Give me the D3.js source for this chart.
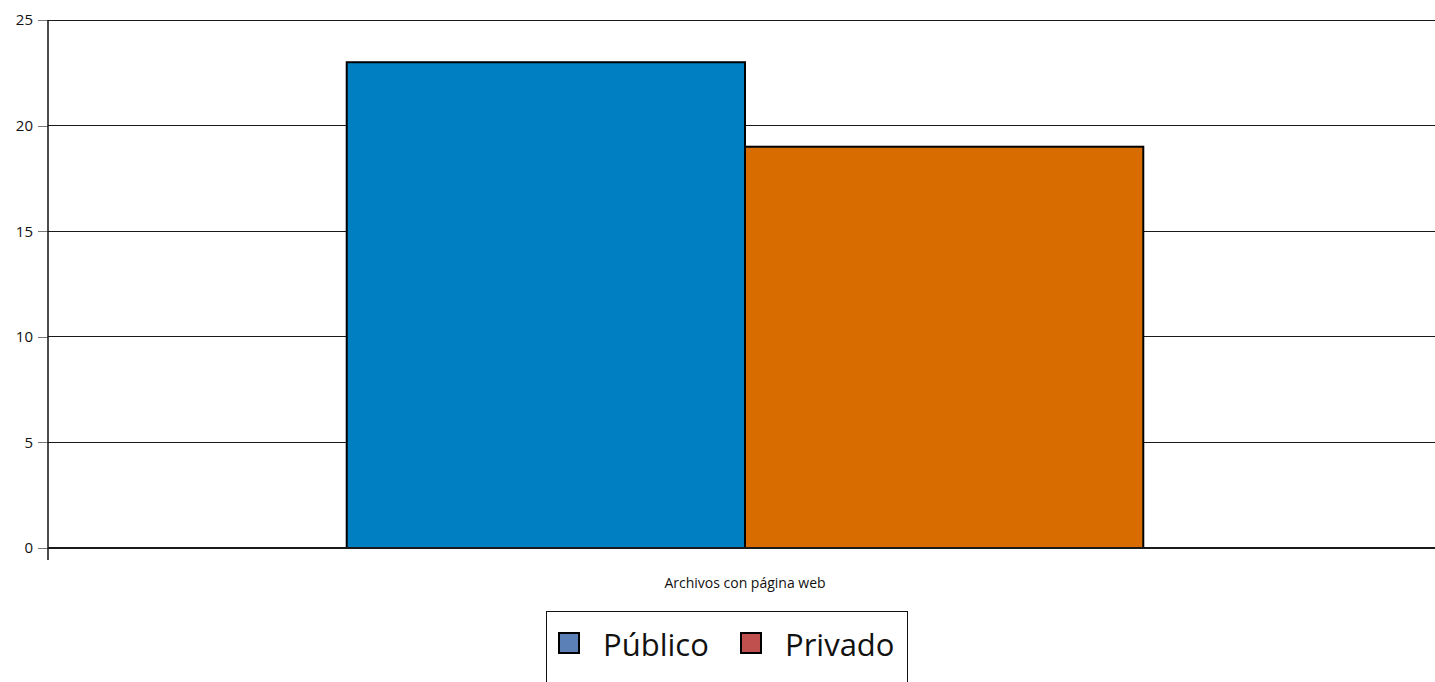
<!DOCTYPE html>
<html><head><meta charset="utf-8">
<script src="https://cdn.jsdelivr.net/npm/d3@7"></script>
<style>body{margin:0;background:#fff;overflow:hidden}svg{display:block}</style>
</head><body>
<svg id="c" width="1435" height="682"></svg>
<script>
const categories = ["Archivos con página web"];
const seriesNames = ["Público", "Privado"];
const publico = [23];
const privado = [19];
const yTicks = [0, 5, 10, 15, 20, 25];
const barColors = ["#0080c3", "#d86c00"];
const legendColors = ["#5b7fb7", "#c0504d"];

(function () {
const svg = d3.select("#c");
const font = "'Open Sans', 'Noto Sans', sans-serif";
const mLeft = 48, mRight = 1442, mTop = 20, mBottom = 548;

const y = d3.scaleLinear().domain([0, 25]).range([mBottom, mTop]);
const x0 = d3.scaleBand().domain(categories).range([mLeft, mRight]).paddingInner(0).paddingOuter(0.375);
const x1 = d3.scaleBand().domain(seriesNames).range([0, x0.bandwidth()]);

// gridlines
svg.append("g").selectAll("line").data(yTicks.filter(d => d > 0)).join("line")
  .attr("x1", mLeft).attr("x2", 1435).attr("y1", d => y(d)).attr("y2", d => y(d))
  .attr("stroke", "#1a1a1a").attr("stroke-width", 1).attr("shape-rendering", "crispEdges");

// y axis
const ax = svg.append("g").attr("transform", `translate(${mLeft},0)`)
  .call(d3.axisLeft(y).tickValues(yTicks).tickSize(10).tickPadding(5).tickFormat(d3.format("d")));
ax.select(".domain").remove();
ax.selectAll(".tick line").attr("stroke", "#777").attr("shape-rendering", "crispEdges");
ax.selectAll(".tick text").attr("font-family", font).attr("font-size", 15).attr("fill", "#111");

svg.append("line").attr("x1", mLeft).attr("x2", mLeft).attr("y1", mTop).attr("y2", mBottom + 12)
  .attr("stroke", "#111").attr("stroke-width", 1.5);

// bars
const data = categories.map((c, i) => ({ cat: c, vals: [publico[i], privado[i]] }));
const g = svg.append("g").selectAll("g").data(data).join("g")
  .attr("transform", d => `translate(${x0(d.cat)},0)`);
g.selectAll("rect").data(d => d.vals.map((v, j) => ({ v, s: seriesNames[j], j }))).join("rect")
  .attr("x", d => x1(d.s)).attr("width", x1.bandwidth())
  .attr("y", d => y(d.v)).attr("height", d => y(0) - y(d.v))
  .attr("fill", d => barColors[d.j]).attr("stroke", "#000").attr("stroke-width", 2);

// baseline
svg.append("line").attr("x1", mLeft).attr("x2", 1435).attr("y1", mBottom).attr("y2", mBottom)
  .attr("stroke", "#1a1a1a").attr("stroke-width", 2);

// category label
svg.append("g").selectAll("text").data(categories).join("text")
  .attr("x", d => x0(d) + x0.bandwidth() / 2).attr("y", 588)
  .attr("text-anchor", "middle").attr("font-family", font).attr("font-size", 14).attr("fill", "#111")
  .text(d => d);

// legend
const lg = svg.append("g");
lg.append("rect").attr("x", 546.5).attr("y", 611.5).attr("width", 361).attr("height", 90)
  .attr("fill", "#fff").attr("stroke", "#111").attr("stroke-width", 1);
const legX = [558, 740];
const items = lg.selectAll("g").data(seriesNames).join("g")
  .attr("transform", (d, i) => `translate(${legX[i]},0)`);
items.append("rect").attr("x", 1).attr("y", 633).attr("width", 20).attr("height", 20)
  .attr("fill", (d, i) => legendColors[i]).attr("stroke", "#000").attr("stroke-width", 2);
items.append("text").attr("x", 45).attr("y", 656).attr("font-family", font).attr("font-size", 31)
  .attr("fill", "#111").text(d => d);
})();
</script>
</body></html>
